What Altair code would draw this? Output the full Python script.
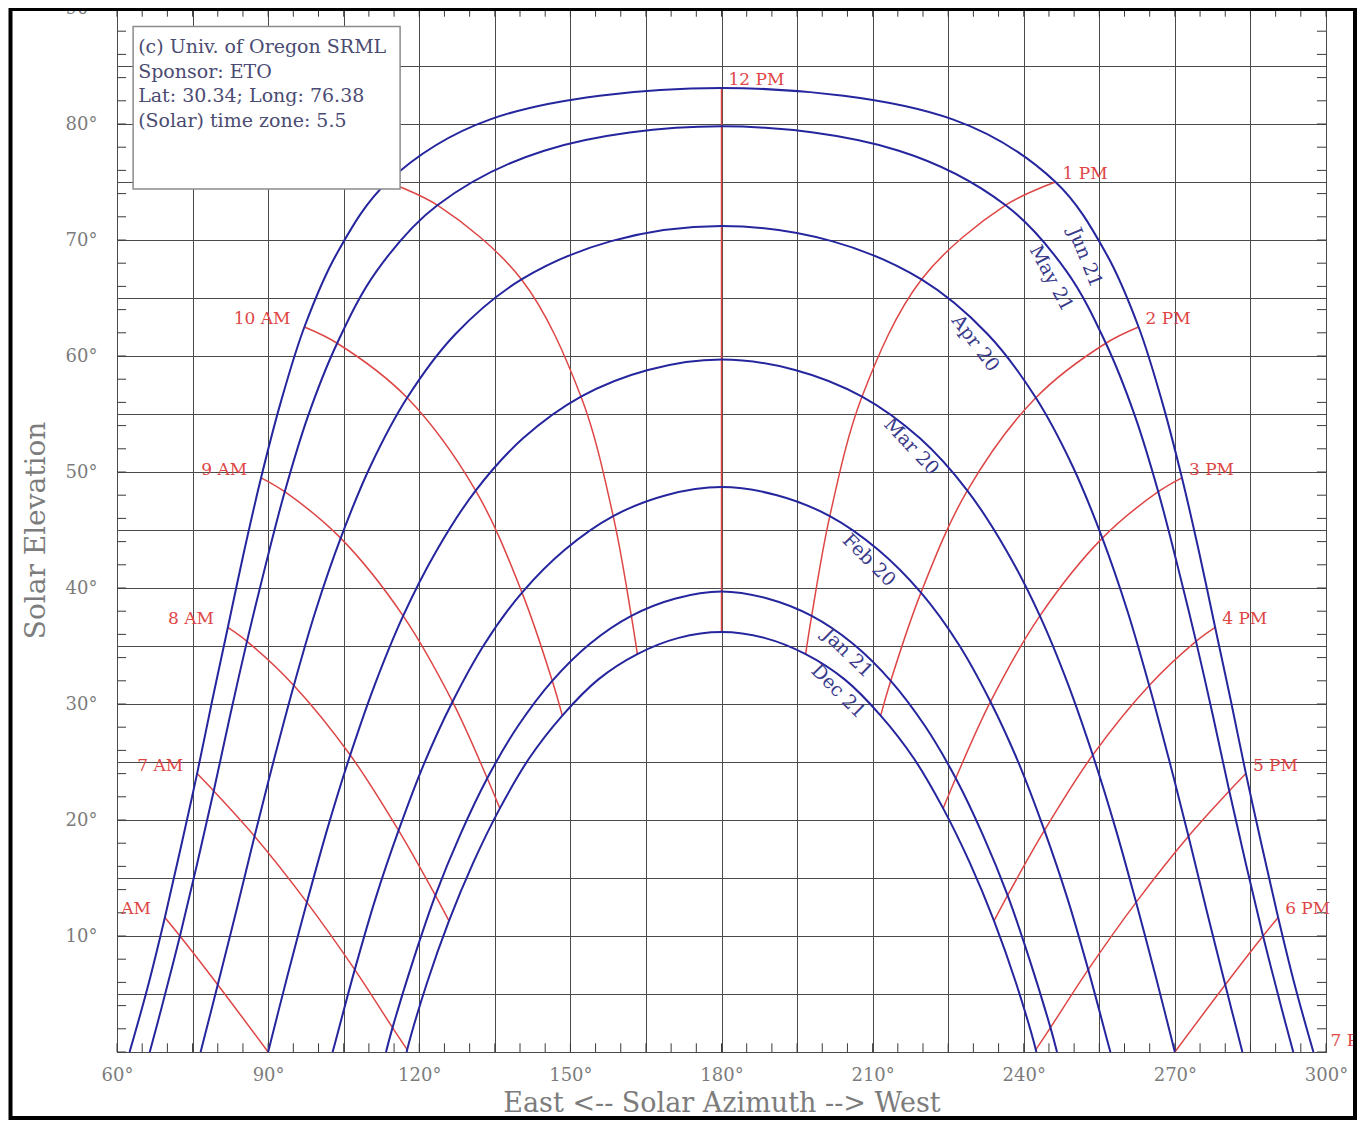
import altair as alt
import pandas as pd

# ---------------- data ----------------
times = [5.0, 5.5, 6.0, 6.5, 7.0, 7.5, 8.0, 8.5, 9.0, 9.5, 10.0, 10.5, 11.0, 11.5, 12.0,
         12.5, 13.0, 13.5, 14.0, 14.5, 15.0, 15.5, 16.0, 16.5, 17.0, 17.5, 18.0, 18.5, 19.0]
dates = ["Jun 21", "May 21", "Apr 20", "Mar 20", "Feb 20", "Jan 21", "Dec 21"]

jun21_az = [None, 66.1, 69.5, 72.7, 75.9, 78.9, 82.0, 85.2, 88.6, 92.5, 97.2, 103.6, 113.7, 134.1, 180.0,
            225.9, 246.3, 256.4, 262.8, 267.5, 271.4, 274.8, 278.0, 281.1, 284.1, 287.3, 290.5, 293.9, None]
jun21_el = [None, 5.6, 11.6, 17.7, 24.0, 30.3, 36.6, 43.1, 49.5, 56.0, 62.5, 68.8, 75.0, 80.4, 83.1,
            80.4, 75.0, 68.8, 62.5, 56.0, 49.5, 43.1, 36.6, 30.3, 24.0, 17.7, 11.6, 5.6, None]
may21_az = [None, 68.9, 72.5, 75.9, 79.2, 82.4, 85.8, 89.4, 93.3, 97.9, 103.7, 111.5, 123.6, 144.8, 180.0,
            215.2, 236.4, 248.5, 256.3, 262.1, 266.7, 270.6, 274.2, 277.6, 280.8, 284.1, 287.5, 291.1, None]
may21_el = [None, 3.9, 10.0, 16.2, 22.5, 28.9, 35.4, 41.8, 48.3, 54.8, 61.1, 67.3, 73.0, 77.7, 79.8,
            77.7, 73.0, 67.3, 61.1, 54.8, 48.3, 41.8, 35.4, 28.9, 22.5, 16.2, 10.0, 3.9, None]
apr20_az = [None, None, 80.0, 83.7, 87.3, 91.1, 95.1, 99.4, 104.4, 110.3, 117.6, 127.2, 140.3, 158.1, 180.0,
            201.9, 219.7, 232.8, 242.4, 249.7, 255.6, 260.6, 264.9, 268.9, 272.7, 276.3, 280.0, None, None]
apr20_el = [None, None, 5.8, 12.2, 18.6, 25.1, 31.6, 38.0, 44.3, 50.5, 56.4, 61.9, 66.6, 69.9, 71.2,
            69.9, 66.6, 61.9, 56.4, 50.5, 44.3, 38.0, 31.6, 25.1, 18.6, 12.2, 5.8, None, None]
mar20_az = [None, None, 90.0, 93.8, 97.7, 101.8, 106.3, 111.2, 116.8, 123.4, 131.2, 140.6, 152.1, 165.4, 180.0,
            194.6, 207.9, 219.4, 228.8, 236.6, 243.2, 248.8, 253.7, 258.2, 262.3, 266.2, 270.0, None, None]
mar20_el = [None, None, 0.0, 6.5, 12.9, 19.3, 25.6, 31.7, 37.6, 43.2, 48.4, 52.9, 56.5, 58.8, 59.7,
            58.8, 56.5, 52.9, 48.4, 43.2, 37.6, 31.7, 25.6, 19.3, 12.9, 6.5, 0.0, None, None]
feb20_az = [None, None, None, 103.3, 107.2, 111.3, 115.9, 120.9, 126.6, 133.0, 140.4, 148.9, 158.5, 169.0, 180.0,
            191.0, 201.5, 211.1, 219.6, 227.0, 233.4, 239.1, 244.1, 248.7, 252.8, 256.7, None, None, None]
feb20_el = [None, None, None, 0.8, 7.1, 13.2, 19.1, 24.8, 30.2, 35.2, 39.6, 43.3, 46.2, 48.0, 48.7,
            48.0, 46.2, 43.3, 39.6, 35.2, 30.2, 24.8, 19.1, 13.2, 7.1, 0.8, None, None, None]
jan21_az = [None, None, None, None, 114.7, 118.8, 123.2, 128.1, 133.5, 139.6, 146.4, 153.9, 162.1, 170.9, 180.0,
            189.1, 197.9, 206.1, 213.6, 220.4, 226.5, 231.9, 236.8, 241.2, 245.3, None, None, None, None]
jan21_el = [None, None, None, None, 2.1, 7.9, 13.5, 18.7, 23.6, 28.1, 32.0, 35.2, 37.6, 39.1, 39.7,
            39.1, 37.6, 35.2, 32.0, 28.1, 23.6, 18.7, 13.5, 7.9, 2.1, None, None, None, None]
dec21_az = [None, None, None, None, 117.6, 121.5, 125.9, 130.7, 136.0, 141.8, 148.4, 155.5, 163.3, 171.5, 180.0,
            188.5, 196.7, 204.5, 211.6, 218.2, 224.0, 229.3, 234.1, 238.5, 242.4, None, None, None, None]
dec21_el = [None, None, None, None, 0.2, 5.9, 11.3, 16.3, 21.0, 25.3, 29.0, 32.1, 34.3, 35.7, 36.2,
            35.7, 34.3, 32.1, 29.0, 25.3, 21.0, 16.3, 11.3, 5.9, 0.2, None, None, None, None]

sunrise_az = [62.5, 66.5, 76.6, 90.0, 102.8, 113.4, 117.5]
sunset_az = [297.5, 293.5, 283.4, 270.0, 257.2, 246.6, 242.5]

hour_times = [6.0, 7.0, 8.0, 9.0, 10.0, 11.0, 12.0, 13.0, 14.0, 15.0, 16.0, 17.0, 18.0]
hour_names = ["6 AM", "7 AM", "8 AM", "9 AM", "10 AM", "11 AM", "12 PM",
              "1 PM", "2 PM", "3 PM", "4 PM", "5 PM", "6 PM"]

am_labels = ["6 AM", "7 AM", "8 AM", "9 AM", "10 AM", "11 AM"]
am_label_az = [69.5, 75.9, 82.0, 88.6, 97.2, 113.7]
am_label_el = [11.6, 24.0, 36.6, 49.5, 62.5, 75.0]
pm_labels = ["12 PM", "1 PM", "2 PM", "3 PM", "4 PM", "5 PM", "6 PM", "7 PM"]
pm_label_az = [180.0, 246.3, 262.8, 271.4, 278.0, 284.1, 290.5, 299.5]
pm_label_el = [83.1, 75.0, 62.5, 49.5, 36.6, 24.0, 11.6, 0.3]

date_label_az = [252.2, 245.5, 230.4, 217.7, 209.3, 205.0, 203.2]
date_label_el = [68.5, 66.7, 61.1, 52.2, 42.4, 34.4, 31.1]
date_label_angle = [68, 62, 53, 47, 45, 44, 45]

info_lines = ["(c) Univ. of Oregon SRML", "Sponsor: ETO",
              "Lat: 30.34; Long: 76.38", "(Solar) time zone: 5.5"]
info_line_el = [86.1, 84.0, 81.9, 79.75]
info_x_az = 64.2
info_box = {"az0": 63.2, "az1": 116.2, "el0": 74.4, "el1": 88.4}

x_grid_values = list(range(60, 301, 15))
y_grid_values = list(range(0, 91, 5))
x_minor = list(range(60, 301, 5))
y_minor = list(range(0, 91, 2))

# ---------------- build tables ----------------
day_az = [jun21_az, may21_az, apr20_az, mar20_az, feb20_az, jan21_az, dec21_az]
day_el = [jun21_el, may21_el, apr20_el, mar20_el, feb20_el, jan21_el, dec21_el]

day_rows = []
for name, azs, els, rise, sett in zip(dates, day_az, day_el, sunrise_az, sunset_az):
    pts = [(a, e) for a, e in zip(azs, els) if a is not None]
    if pts[0][1] > 0:
        pts = [(rise, 0.0)] + pts
    if pts[-1][1] > 0:
        pts = pts + [(sett, 0.0)]
    for k, (a, e) in enumerate(pts):
        day_rows.append({"date": name, "az": a, "el": e, "seq": k})
day_df = pd.DataFrame(day_rows)

hour_rows = []
for t, hn in zip(hour_times, hour_names):
    idx = times.index(t)
    pts = []
    for azs, els in zip(day_az, day_el):
        if azs[idx] is not None:
            pts.append((azs[idx], els[idx]))
    pts.sort(key=lambda p: -p[1])
    for k, (a, e) in enumerate(pts):
        hour_rows.append({"hour": hn, "az": a, "el": e, "seq": k})
hour_df = pd.DataFrame(hour_rows)

am_df = pd.DataFrame({"label": am_labels, "az": am_label_az, "el": am_label_el})
pm_df = pd.DataFrame({"label": pm_labels, "az": pm_label_az, "el": pm_label_el})
dl_df = pd.DataFrame({"label": dates, "az": date_label_az, "el": date_label_el, "ang": date_label_angle})
info_df = pd.DataFrame({"label": info_lines, "el": info_line_el, "az": [info_x_az] * len(info_lines)})
box_df = pd.DataFrame([info_box])

bt_df = pd.DataFrame({"az": x_minor, "e0": [0.0] * len(x_minor), "e1": [0.75] * len(x_minor)})
tt_df = pd.DataFrame({"az": x_minor, "e0": [89.25] * len(x_minor), "e1": [90.0] * len(x_minor)})
lt_df = pd.DataFrame({"el": y_minor, "a0": [60.0] * len(y_minor), "a1": [61.8] * len(y_minor)})
rt_df = pd.DataFrame({"el": y_minor, "a0": [298.2] * len(y_minor), "a1": [300.0] * len(y_minor)})

# ---------------- scales / axes ----------------
FONT = "DejaVu Serif"
BLUE = "#25259e"
RED = "#de4646"
W, H = 1209, 1044

xs = alt.Scale(domain=[60, 300], nice=False, zero=False)
ys = alt.Scale(domain=[0, 90], nice=False, zero=False)

x_axis = alt.Axis(values=x_grid_values,
                  labelExpr="datum.value % 30 == 0 ? datum.value + '°' : ''",
                  grid=True, gridColor="#4a4a4a", gridWidth=1, ticks=False, domain=False,
                  labelFont=FONT, labelFontSize=18, labelColor="#7c7c7c", labelPadding=14,
                  labelFlush=False, labelOverlap=False,
                  title="East <-- Solar Azimuth --> West", titleFont=FONT, titleFontSize=27,
                  titleFontWeight="normal", titleColor="#7c7c7c",
                  titleX=W / 2, titleY=51, titleBaseline="middle", titleAlign="center")
y_axis = alt.Axis(values=y_grid_values,
                  labelExpr="(datum.value % 10 == 0 && datum.value > 0) ? datum.value + '°' : ''",
                  grid=True, gridColor="#4a4a4a", gridWidth=1, ticks=False, domain=False,
                  labelFont=FONT, labelFontSize=18, labelColor="#7c7c7c", labelPadding=20,
                  labelFlush=False, labelOverlap=False,
                  title="Solar Elevation", titleFont=FONT, titleFontSize=28,
                  titleFontWeight="normal", titleColor="#7c7c7c",
                  titleX=-81, titleY=H / 2, titleBaseline="middle", titleAlign="center", titleAngle=270)


def X(f):
    return alt.X(f, type="quantitative", scale=xs, axis=x_axis)


def Y(f):
    return alt.Y(f, type="quantitative", scale=ys, axis=y_axis)


# ---------------- layers ----------------
tick_style = dict(color="#3a3a3a", strokeWidth=1)
bottom_ticks = alt.Chart(bt_df).mark_rule(**tick_style).encode(x=X("az"), y=Y("e0"), y2="e1")
top_ticks = alt.Chart(tt_df).mark_rule(**tick_style).encode(x=X("az"), y=Y("e0"), y2="e1")
left_ticks = alt.Chart(lt_df).mark_rule(**tick_style).encode(y=Y("el"), x=X("a0"), x2="a1")
right_ticks = alt.Chart(rt_df).mark_rule(**tick_style).encode(y=Y("el"), x=X("a0"), x2="a1")

hour_lines = alt.Chart(hour_df).mark_line(interpolate="catmull-rom", color=RED, strokeWidth=1.5).encode(
    x=X("az"), y=Y("el"), detail="hour:N", order="seq:Q")
day_lines = alt.Chart(day_df).mark_line(interpolate="catmull-rom", color=BLUE, strokeWidth=2).encode(
    x=X("az"), y=Y("el"), detail="date:N", order="seq:Q")

am_text = alt.Chart(am_df).mark_text(align="right", baseline="alphabetic", dx=-14, dy=-3,
                                     font=FONT, fontSize=17, color=RED, clip=True).encode(
    x=X("az"), y=Y("el"), text="label:N")
pm_text = alt.Chart(pm_df).mark_text(align="left", baseline="alphabetic", dx=7, dy=-3,
                                     font=FONT, fontSize=17, color=RED).encode(
    x=X("az"), y=Y("el"), text="label:N")
date_text = alt.Chart(dl_df).mark_text(align="center", baseline="middle",
                                       font=FONT, fontSize=19, color="#3a3a8a").encode(
    x=X("az"), y=Y("el"), text="label:N", angle=alt.Angle("ang:Q", scale=None))

box = alt.Chart(box_df).mark_rect(fill="white", stroke="#8c8c8c", strokeWidth=1.5).encode(
    x=X("az0"), x2="az1", y=Y("el0"), y2="el1")
info_text = alt.Chart(info_df).mark_text(align="left", baseline="alphabetic",
                                         font=FONT, fontSize=19, color="#4b4b72").encode(
    x=X("az"), y=Y("el"), text="label:N")

frame = alt.Chart(pd.DataFrame({"k": [0]})).mark_rect(fillOpacity=0, stroke="black", strokeWidth=4).encode(
    x=alt.value(-106.5), x2=alt.value(1238), y=alt.value(1), y2=alt.value(1110))

chart = alt.layer(
    bottom_ticks, top_ticks, left_ticks, right_ticks,
    hour_lines, day_lines,
    am_text, pm_text, date_text,
    box, info_text, frame
).properties(
    width=W, height=H,
    padding={"left": 109, "top": 0, "right": 31, "bottom": 69},
    autosize=alt.AutoSizeParams(type="none"),
    background="white",
).configure_view(stroke="#333333", strokeWidth=1)

chart.save("out.html", embed_options={"renderer": "svg", "actions": False})
